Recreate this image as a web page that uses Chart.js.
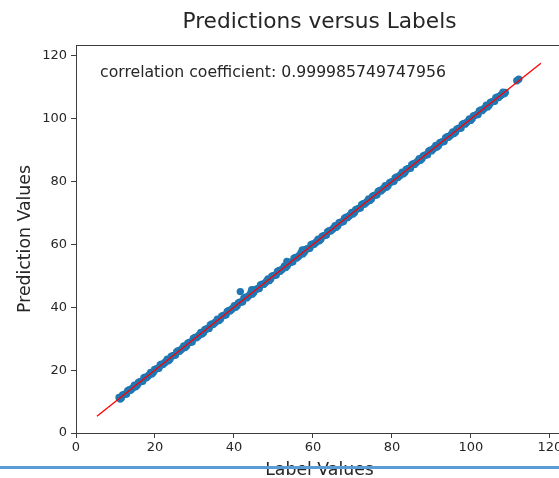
<!DOCTYPE html>
<html>
<head>
<meta charset="utf-8">
<script src="https://cdn.jsdelivr.net/npm/chart.js@4/dist/chart.umd.min.js"></script>
<style>
  html, body { margin: 0; padding: 0; background: #fff; overflow: hidden; width: 559px; height: 478px; }
  #wrap { position: absolute; left: 0; top: 0; width: 600px; height: 478px; }
  #rule { position: absolute; left: 0; top: 466px; width: 559px; height: 3px; background: #5b9bd5; }
</style>
</head>
<body>
<div id="wrap"><canvas id="c" width="600" height="478"></canvas></div>
<div id="rule"></div>
<script>
// Ground-truth labels (x) and model predictions (y), paired by index
const labelValues = [
  10.9, 11.5, 12.2, 12.8, 13.5, 14.1, 14.8, 15.5, 16.2, 16.9,
  17.5, 18.2, 18.9, 19.6, 20.3, 21.0, 21.6, 22.4, 23.1, 23.8,
  24.5, 25.2, 25.9, 26.6, 27.3, 28.0, 28.7, 29.4, 30.1, 30.9,
  31.6, 32.3, 33.0, 33.7, 34.4, 35.1, 35.8, 36.6, 37.3, 38.0,
  38.7, 39.4, 40.1, 40.8, 41.5, 42.2, 42.9, 43.6, 44.3, 45.0,
  45.7, 46.4, 47.1, 47.9, 48.6, 49.3, 50.0, 50.7, 51.4, 52.1,
  52.8, 53.5, 54.2, 54.9, 55.6, 56.3, 57.0, 57.8, 58.5, 59.2,
  59.9, 60.6, 61.3, 62.0, 62.7, 63.4, 64.1, 64.9, 65.6, 66.3,
  67.0, 67.7, 68.4, 69.1, 69.8, 70.5, 71.2, 72.0, 72.7, 73.4,
  74.1, 74.8, 75.5, 76.2, 76.9, 77.6, 78.3, 79.0, 79.8, 80.5,
  81.2, 81.9, 82.6, 83.3, 84.0, 84.7, 85.4, 86.1, 86.9, 87.6,
  88.3, 89.0, 89.7, 90.4, 91.1, 91.8, 92.5, 93.2, 94.0, 94.7,
  95.4, 96.1, 96.8, 97.5, 98.2, 98.9, 99.6, 100.3, 101.0, 101.8,
  102.5, 103.2, 103.9, 104.6, 105.3, 106.0, 106.7, 107.4, 108.1, 108.7,
  11.2, 11.8, 12.5, 13.1, 13.8, 14.4, 15.1, 15.8, 16.5, 17.2,
  17.8, 18.5, 19.2, 19.9, 20.6, 21.3, 22.0, 22.7, 23.4, 24.1,
  24.8, 25.5, 26.2, 26.9, 27.6, 28.3, 29.0, 29.7, 30.5, 31.2,
  31.9, 32.6, 33.3, 34.0, 34.7, 35.4, 36.2, 36.9, 37.6, 38.3,
  39.0, 39.7, 40.4, 41.1, 41.8, 42.5, 43.2, 43.9, 44.6, 45.3,
  46.0, 46.7, 47.5, 48.2, 48.9, 49.6, 50.3, 51.0, 51.7, 52.4,
  53.1, 53.8, 54.5, 55.2, 55.9, 56.6, 57.4, 58.1, 58.8, 59.5,
  60.2, 60.9, 61.6, 62.3, 63.0, 63.7, 64.5, 65.2, 65.9, 66.6,
  67.3, 68.0, 68.7, 69.4, 70.1, 70.8, 71.6, 72.3, 73.0, 73.7,
  74.4, 75.1, 75.8, 76.5, 77.2, 77.9, 78.6, 79.4, 80.1, 80.8,
  81.5, 82.2, 82.9, 83.6, 84.3, 85.0, 85.7, 86.5, 87.2, 87.9,
  88.6, 89.3, 90.0, 90.7, 91.4, 92.1, 92.8, 93.6, 94.3, 95.0,
  95.7, 96.4, 97.1, 97.8, 98.5, 99.2, 99.9, 100.6, 101.4, 102.1,
  102.8, 103.5, 104.2, 104.9, 105.6, 106.3, 107.0, 107.7, 108.4,
  41.6, 44.5, 53.4, 57.3, 111.6, 112.1
];
const predictionValues = [
  11.3, 11.2, 12.3, 12.4, 13.8, 14.0, 15.2, 15.2, 16.3, 16.5,
  17.8, 18.1, 19.3, 19.3, 20.4, 20.6, 21.9, 22.3, 23.5, 23.5,
  24.6, 24.8, 26.2, 26.5, 27.7, 27.7, 28.8, 29.0, 30.4, 30.8,
  32.0, 32.0, 33.1, 33.3, 34.7, 35.0, 36.2, 36.3, 37.4, 37.6,
  39.0, 39.3, 40.5, 40.5, 41.6, 41.8, 43.2, 43.5, 44.7, 44.7,
  45.8, 46.0, 47.4, 47.8, 49.0, 49.0, 50.1, 50.3, 51.7, 52.0,
  53.2, 53.2, 54.3, 54.5, 55.9, 56.2, 57.4, 57.5, 58.6, 58.8,
  60.2, 60.5, 61.7, 61.7, 62.8, 63.0, 64.4, 64.8, 66.0, 66.0,
  67.1, 67.3, 68.7, 69.0, 70.2, 70.2, 71.3, 71.6, 73.0, 73.3,
  74.5, 74.5, 75.6, 75.8, 77.2, 77.5, 78.7, 78.7, 79.9, 80.1,
  81.5, 81.8, 83.0, 83.0, 84.1, 84.3, 85.7, 86.0, 87.3, 87.3,
  88.4, 88.6, 90.0, 90.3, 91.5, 91.5, 92.6, 92.8, 94.3, 94.6,
  95.8, 95.8, 96.9, 97.1, 98.5, 98.8, 100.0, 100.0, 101.1, 101.4,
  102.8, 103.1, 104.3, 104.3, 105.4, 105.6, 107.0, 107.3, 108.5, 108.4,
  10.8, 12.1, 12.4, 13.5, 13.6, 14.4, 14.7, 16.1, 16.4, 17.6,
  17.6, 18.5, 18.8, 20.2, 20.5, 21.7, 21.8, 22.7, 23.0, 24.4,
  24.7, 25.9, 26.0, 26.9, 27.2, 28.6, 28.9, 30.1, 30.3, 31.2,
  31.5, 32.9, 33.2, 34.4, 34.5, 35.4, 35.8, 37.2, 37.5, 38.7,
  38.8, 39.7, 40.0, 41.4, 41.7, 42.9, 43.0, 43.9, 44.2, 45.6,
  45.9, 47.1, 47.3, 48.2, 48.5, 49.9, 50.2, 51.4, 51.5, 52.4,
  52.7, 54.1, 54.4, 55.6, 55.7, 56.6, 57.0, 58.4, 58.7, 59.9,
  60.0, 60.9, 61.2, 62.6, 62.9, 64.1, 64.3, 65.2, 65.5, 66.9,
  67.2, 68.4, 68.5, 69.4, 69.7, 71.1, 71.5, 72.7, 72.8, 73.7,
  74.0, 75.4, 75.7, 76.9, 77.0, 77.9, 78.2, 79.7, 80.0, 81.2,
  81.3, 82.2, 82.5, 83.9, 84.2, 85.4, 85.5, 86.5, 86.8, 88.2,
  88.5, 89.7, 89.8, 90.7, 91.0, 92.4, 92.7, 94.0, 94.1, 95.0,
  95.3, 96.7, 97.0, 98.2, 98.3, 99.2, 99.5, 100.9, 101.3, 102.5,
  102.6, 103.5, 103.8, 105.2, 105.5, 106.7, 106.8, 107.7, 108.0,
  45.0, 45.6, 54.6, 58.3, 112.1, 112.6
];
// Identity reference line y = x
const refLineX = [5.3, 117.7];
const refLineY = [5.3, 117.7];

const xTicks = [0, 20, 40, 60, 80, 100, 120];
const yTicks = [0, 20, 40, 60, 80, 100, 120];

const corrText = 'correlation coefficient: 0.999985749747956';
const titleText = 'Predictions versus Labels';
const xTitle = 'Label Values';
const yTitle = 'Prediction Values';

const FONT = '"DejaVu Sans", Verdana, sans-serif';
const INK = '#262626';
const SPINE = '#3d3d3d';

const scatterPoints = labelValues.map((x, i) => ({ x: x, y: predictionValues[i] }));
const linePoints = refLineX.map((x, i) => ({ x: x, y: refLineY[i] }));

const decorations = {
  id: 'decorations',
  afterDraw(chart) {
    const ctx = chart.ctx;
    const a = chart.chartArea;
    ctx.save();
    // top spine
    ctx.strokeStyle = SPINE;
    ctx.lineWidth = 1;
    ctx.beginPath();
    ctx.moveTo(a.left, a.top + 0.5);
    ctx.lineTo(a.right, a.top + 0.5);
    ctx.stroke();

    ctx.fillStyle = INK;
    ctx.textBaseline = 'alphabetic';
    // title
    ctx.font = '21.7px ' + FONT;
    ctx.textAlign = 'center';
    ctx.fillText(titleText, (a.left + a.right) / 2, 28);
    // correlation note
    ctx.font = '15.7px ' + FONT;
    ctx.textAlign = 'left';
    ctx.fillText(corrText, 100, 77);
    // x axis title
    ctx.font = '17.3px ' + FONT;
    ctx.textAlign = 'center';
    ctx.fillText(xTitle, (a.left + a.right) / 2, 475);
    // y axis title
    ctx.translate(30, (a.top + a.bottom) / 2);
    ctx.rotate(-Math.PI / 2);
    ctx.fillText(yTitle, 0, 0);
    ctx.restore();
  }
};

new Chart(document.getElementById('c'), {
  type: 'scatter',
  data: {
    datasets: [
      {
        type: 'line',
        data: linePoints,
        borderColor: '#ff0000',
        borderWidth: 1.3,
        pointRadius: 0,
        showLine: true,
        fill: false,
        order: 1
      },
      {
        data: scatterPoints,
        backgroundColor: '#1f77b4',
        borderWidth: 0,
        pointRadius: 3.7,
        order: 2
      }
    ]
  },
  options: {
    responsive: false,
    animation: false,
    devicePixelRatio: 1,
    layout: { padding: { top: 45, right: 37, left: 0, bottom: 0 } },
    plugins: { legend: { display: false }, tooltip: { enabled: false }, title: { display: false } },
    scales: {
      x: {
        type: 'linear',
        min: 0,
        max: 123.3,
        afterFit(scale) { scale.height = 45; },
        afterBuildTicks(scale) { scale.ticks = xTicks.map(v => ({ value: v })); },
        grid: { display: true, drawOnChartArea: false, drawTicks: true, tickLength: 5, color: SPINE, tickColor: SPINE },
        border: { display: true, color: SPINE, width: 1 },
        ticks: { color: INK, font: { family: FONT, size: 13 }, padding: 2, maxRotation: 0, autoSkip: false }
      },
      y: {
        type: 'linear',
        min: 0,
        max: 123.5,
        afterFit(scale) { scale.width = 76; },
        afterBuildTicks(scale) { scale.ticks = yTicks.map(v => ({ value: v })); },
        grid: { display: true, drawOnChartArea: false, drawTicks: true, tickLength: 5, color: SPINE, tickColor: SPINE },
        border: { display: true, color: SPINE, width: 1 },
        ticks: { color: INK, font: { family: FONT, size: 13 }, padding: 4, autoSkip: false }
      }
    }
  },
  plugins: [decorations]
});
</script>
</body>
</html>
